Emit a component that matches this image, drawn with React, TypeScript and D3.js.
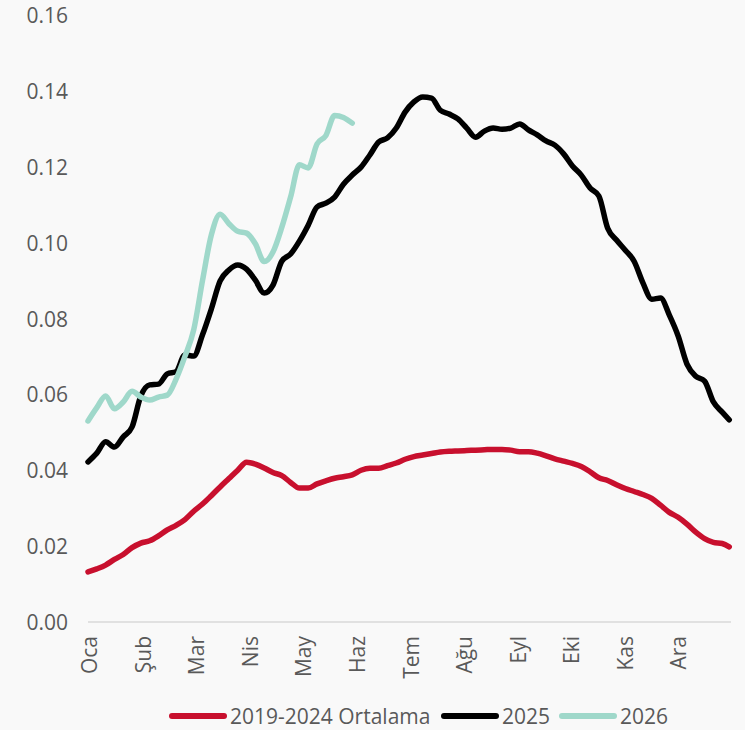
import React, { useEffect, useRef } from "react";
import * as d3 from "d3";

// month labels on the x axis
const months = ["Oca", "Şub", "Mar", "Nis", "May", "Haz", "Tem", "Ağu", "Eyl", "Eki", "Kas", "Ara"];

// y axis ticks
const yTicks = [0, 0.02, 0.04, 0.06, 0.08, 0.1, 0.12, 0.14, 0.16];

// one value every 5 days, last point is day 364
const STEP = 5;

const avg2019_2024 = [
   0.0132, 0.014, 0.015, 0.0165, 0.0178, 0.0196, 0.0208, 0.0214, 0.0227, 0.0243,
   0.0255, 0.027, 0.0292, 0.0311, 0.0333, 0.0356, 0.0378, 0.04, 0.0421, 0.0416,
   0.0406, 0.0394, 0.0386, 0.0368, 0.0353, 0.0353, 0.0364, 0.0372, 0.0379, 0.0383,
   0.0388, 0.04, 0.0405, 0.0405, 0.0412, 0.0419, 0.0429, 0.0436, 0.044, 0.0444,
   0.0448, 0.045, 0.0451, 0.0452, 0.0453, 0.0454, 0.0455, 0.0455, 0.0453, 0.0449,
   0.0449, 0.0445, 0.0438, 0.043, 0.0424, 0.0418, 0.041, 0.0396, 0.038, 0.0373,
   0.0362, 0.0352, 0.0344, 0.0336, 0.0326, 0.0308, 0.0289, 0.0276, 0.0258, 0.0237,
   0.022, 0.021, 0.0207, 0.0198,
];

const y2025 = [
   0.0422, 0.0445, 0.0475, 0.0461, 0.0488, 0.0514, 0.0596, 0.0625, 0.0627, 0.0654,
   0.066, 0.0704, 0.0701, 0.0757, 0.0825, 0.0899, 0.0928, 0.0941, 0.093, 0.0901,
   0.0867, 0.0888, 0.0951, 0.097, 0.1004, 0.1046, 0.1094, 0.1104, 0.112, 0.1154,
   0.1178, 0.1199, 0.1231, 0.1265, 0.1276, 0.1302, 0.1344, 0.1371, 0.1384, 0.1381,
   0.1349, 0.1339, 0.1326, 0.1302, 0.1278, 0.1294, 0.1302, 0.1299, 0.1302, 0.1313,
   0.1297, 0.1284, 0.1268, 0.1257, 0.1234, 0.1202, 0.1178, 0.1144, 0.1123, 0.1038,
   0.1007, 0.098, 0.0951, 0.0894, 0.0851, 0.0854, 0.0809, 0.0754, 0.068, 0.0648,
   0.0635, 0.058, 0.0553, 0.0533,
];

const y2026 = [
   0.053, 0.0565, 0.0596, 0.0562, 0.058, 0.0608, 0.0593, 0.0585, 0.0593, 0.0598,
   0.064, 0.07, 0.077, 0.09, 0.102, 0.1075, 0.105, 0.103, 0.1025, 0.0997,
   0.095, 0.0975, 0.104, 0.112, 0.1205, 0.1197, 0.126, 0.1282, 0.1335, 0.133,
   0.1315,
];

const seriesNames = ["2019-2024 Ortalama", "2025", "2026"];
const colors = ["#c8102e", "#000000", "#9fd8ca"];

const App = () => {
   const svgRef = useRef(null);

   useEffect(() => {
      document.body.style.margin = "0";
      const svg = d3.select(svgRef.current);
      svg.selectAll("*").remove();

      const width = 745;
      const height = 730;
      const left = 88;
      const right = 731;
      const top = 15;
      const bottom = 622;
      const font = "'Open Sans', sans-serif";
      const textColor = "#595959";

      svg.append("rect").attr("width", width).attr("height", height).attr("fill", "#f9f9f9");

      const x = d3.scaleLinear().domain([0, 365]).range([left, right]);
      const y = d3.scaleLinear().domain([0, 0.16]).range([bottom, top]);
      const monthX = d3.scaleBand().domain(months).range([left, right]);

      // y tick labels
      svg.append("g")
         .selectAll("text")
         .data(yTicks)
         .enter()
         .append("text")
         .attr("x", 68)
         .attr("y", (d) => y(d))
         .attr("text-anchor", "end")
         .attr("dominant-baseline", "central")
         .style("font-family", font)
         .style("font-size", "21px")
         .attr("fill", textColor)
         .text((d) => d.toFixed(2));

      // baseline
      svg.append("line")
         .attr("x1", left)
         .attr("x2", right)
         .attr("y1", y(0))
         .attr("y2", y(0))
         .attr("stroke", "#d9d9d9")
         .attr("stroke-width", 1.5);

      // month labels, rotated
      svg.append("g")
         .selectAll("text")
         .data(months)
         .enter()
         .append("text")
         .attr("transform", (d) => `translate(${monthX(d)! + 1}, 636) rotate(-90)`)
         .attr("text-anchor", "end")
         .attr("dominant-baseline", "central")
         .style("font-family", font)
         .style("font-size", "21px")
         .attr("fill", textColor)
         .text((d) => d);

      const day = (i: number) => Math.min(i * STEP, 364);
      const line = d3
         .line<number>()
         .x((d, i) => x(day(i)))
         .y((d) => y(d))
         .curve(d3.curveMonotoneX);

      [avg2019_2024, y2025, y2026].forEach((s, k) => {
         svg.append("path")
            .attr("d", line(s))
            .attr("fill", "none")
            .attr("stroke", colors[k])
            .attr("stroke-width", 5.5)
            .attr("stroke-linejoin", "round")
            .attr("stroke-linecap", "round");
      });

      // legend
      const legendX = [170, 442, 560];
      const lg = svg.append("g");
      seriesNames.forEach((name, k) => {
         lg.append("line")
            .attr("x1", legendX[k] + 2)
            .attr("x2", legendX[k] + 54)
            .attr("y1", 716)
            .attr("y2", 716)
            .attr("stroke", colors[k])
            .attr("stroke-width", 6)
            .attr("stroke-linecap", "round");
         lg.append("text")
            .attr("x", legendX[k] + 60)
            .attr("y", 716)
            .attr("dominant-baseline", "central")
            .style("font-family", font)
            .style("font-size", "21px")
            .attr("fill", textColor)
            .text(name);
      });
   }, []);

   return <svg ref={svgRef} width={745} height={730} style={{ display: "block" }}></svg>;
};

export default App;
